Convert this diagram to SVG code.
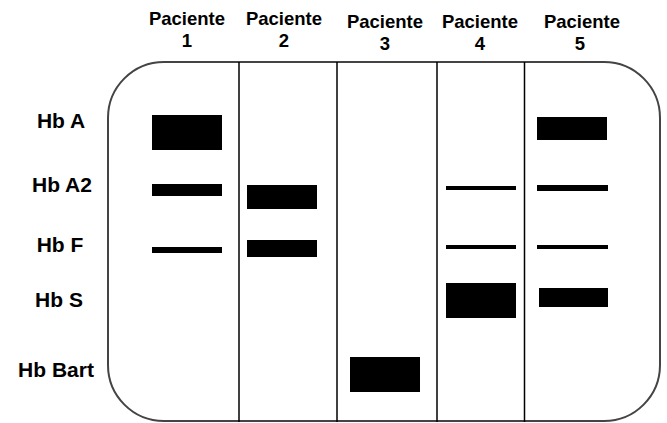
<svg xmlns="http://www.w3.org/2000/svg" width="667" height="423" viewBox="0 0 667 423">
  <style>
    .hdr { font-family: "Liberation Sans", Arial, sans-serif; font-weight: bold; font-size: 18.5px; fill: #000; text-anchor: middle; }
    .lbl { font-family: "Liberation Sans", Arial, sans-serif; font-weight: bold; font-size: 21px; fill: #000; text-anchor: middle; }
    .frame { fill: #fff; stroke: #444; stroke-width: 2; }
    .div { stroke: #000; stroke-width: 1.5; }
    .band { fill: #000; }
  </style>
  <rect width="667" height="423" fill="#fff"/>

  <!-- gel frame -->
  <g id="gel">
    <rect class="frame" x="108" y="62" width="552" height="359" rx="56" ry="56"/>
  </g>

  <!-- lane separators -->
  <g id="separators">
    <line class="div" x1="239" y1="62" x2="239" y2="422"/>
    <line class="div" x1="337" y1="62" x2="337" y2="422"/>
    <line class="div" x1="437" y1="62" x2="437" y2="422"/>
    <line class="div" x1="524.5" y1="62" x2="524.5" y2="422"/>
  </g>

  <!-- column headers -->
  <g id="headers">
    <text class="hdr" x="187" y="25">Paciente</text>
    <text class="hdr" x="187" y="47">1</text>
    <text class="hdr" x="284" y="25">Paciente</text>
    <text class="hdr" x="284" y="47">2</text>
    <text class="hdr" x="385" y="28">Paciente</text>
    <text class="hdr" x="385" y="50">3</text>
    <text class="hdr" x="480" y="28">Paciente</text>
    <text class="hdr" x="480" y="50">4</text>
    <text class="hdr" x="582" y="28">Paciente</text>
    <text class="hdr" x="580" y="50">5</text>
  </g>

  <!-- row labels -->
  <g id="labels">
    <text class="lbl" x="61" y="128">Hb A</text>
    <text class="lbl" x="62" y="192">Hb A2</text>
    <text class="lbl" x="60" y="252">Hb F</text>
    <text class="lbl" x="59" y="307">Hb S</text>
    <text class="lbl" x="56" y="377">Hb Bart</text>
  </g>

  <!-- lane 1 -->
  <g id="lane1">
    <rect class="band" x="152" y="115" width="70" height="35"/>
    <rect class="band" x="152" y="184" width="70" height="12"/>
    <rect class="band" x="152" y="247" width="70" height="6"/>
  </g>

  <!-- lane 2 -->
  <g id="lane2">
    <rect class="band" x="247" y="185" width="70" height="24"/>
    <rect class="band" x="247" y="240" width="70" height="17"/>
  </g>

  <!-- lane 3 -->
  <g id="lane3">
    <rect class="band" x="350" y="357" width="70" height="35"/>
  </g>

  <!-- lane 4 -->
  <g id="lane4">
    <rect class="band" x="446" y="186" width="70" height="4"/>
    <rect class="band" x="446" y="245" width="70" height="4"/>
    <rect class="band" x="446" y="283" width="70" height="35"/>
  </g>

  <!-- lane 5 -->
  <g id="lane5">
    <rect class="band" x="537" y="117" width="70" height="23"/>
    <rect class="band" x="537" y="185" width="71" height="6"/>
    <rect class="band" x="537" y="245" width="71" height="4"/>
    <rect class="band" x="539" y="288" width="69" height="19"/>
  </g>
</svg>
